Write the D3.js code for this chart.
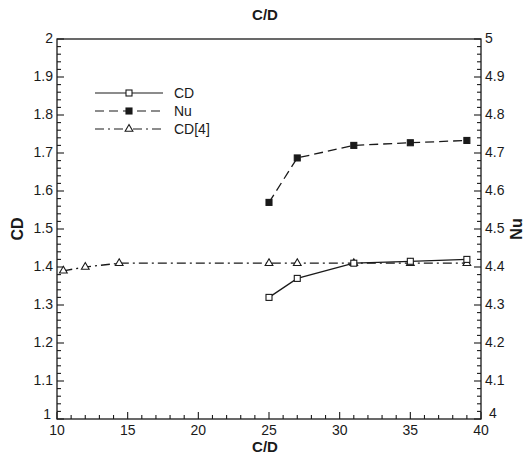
<!DOCTYPE html>
<html>
<head>
<meta charset="utf-8">
<script src="https://cdn.jsdelivr.net/npm/d3@7"></script>
<style>
  html, body { margin: 0; padding: 0; background: #fff; }
  svg { display: block; }
  text { font-family: "Liberation Sans", Arial, sans-serif; fill: #1a1a1a; }
</style>
</head>
<body>
<svg id="chart" width="525" height="454"></svg>
<script>
// Drag coefficient (CD) and Nusselt number (Nu) versus C/D
const cdX = [25, 27, 31, 35, 39];
const cdY = [1.32, 1.37, 1.41, 1.415, 1.42];

const nuX = [25, 27, 31, 35, 39];
const nuY = [4.57, 4.687, 4.72, 4.727, 4.733];

const refX = [10.45, 12, 14.4, 25, 27, 31, 35, 39];
const refY = [1.39, 1.40, 1.41, 1.41, 1.41, 1.41, 1.41, 1.41];

const xTicks = [10, 15, 20, 25, 30, 35, 40];
const cdTicks = [1, 1.1, 1.2, 1.3, 1.4, 1.5, 1.6, 1.7, 1.8, 1.9, 2];
const nuTicks = [4, 4.1, 4.2, 4.3, 4.4, 4.5, 4.6, 4.7, 4.8, 4.9, 5];

const ink = "#1a1a1a";
const svg = d3.select("#chart");
const L = 57, R = 481, T = 39, B = 419;

const x = d3.scaleLinear().domain([10, 40]).range([L, R]);
const yL = d3.scaleLinear().domain([1, 2]).range([B, T]);
const yR = d3.scaleLinear().domain([4, 5]).range([B, T]);

// frame
svg.append("rect").attr("x", L).attr("y", T).attr("width", R - L).attr("height", B - T)
  .attr("fill", "none").attr("stroke", ink).attr("stroke-width", 1.3);

// minor + major ticks (inward)
const g = svg.append("g").attr("stroke", ink).attr("stroke-width", 1.1);
d3.range(10, 40.01, 1).forEach(v => {
  const len = (Math.round(v) % 5 === 0) ? 7 : 4;
  g.append("line").attr("x1", x(v)).attr("x2", x(v)).attr("y1", B).attr("y2", B - len);
});
d3.range(1, 2.001, 0.02).forEach(v => {
  const major = Math.abs(Math.round(v * 10) - v * 10) < 1e-6;
  const len = major ? 7 : 4;
  g.append("line").attr("x1", L).attr("x2", L + len).attr("y1", yL(v)).attr("y2", yL(v));
});
d3.range(4, 5.001, 0.02).forEach(v => {
  const major = Math.abs(Math.round(v * 10) - v * 10) < 1e-6;
  const len = major ? 7 : 4;
  g.append("line").attr("x1", R).attr("x2", R - len).attr("y1", yR(v)).attr("y2", yR(v));
});

// tick labels; the lowest y labels sit a little higher so they clear the corner x labels
const fmt = d3.format("~g");
svg.append("g").selectAll("text").data(xTicks).join("text")
  .attr("x", d => x(d)).attr("y", B + 16).attr("text-anchor", "middle")
  .attr("font-size", 14).text(d => d);
svg.append("g").selectAll("text").data(cdTicks).join("text")
  .attr("x", d => d === 1 ? L - 6 : L - 4)
  .attr("y", d => d === 1 ? yL(d) : yL(d) + 4).attr("text-anchor", "end")
  .attr("font-size", 14).text(d => fmt(d));
svg.append("g").selectAll("text").data(nuTicks).join("text")
  .attr("x", d => d === 4 ? R + 8 : R + 4)
  .attr("y", d => d === 4 ? yR(d) - 1 : yR(d) + 4).attr("text-anchor", "start")
  .attr("font-size", 14).text(d => fmt(d));

// titles
svg.append("text").attr("x", 265).attr("y", 20).attr("text-anchor", "middle")
  .attr("font-size", 15).attr("font-weight", "bold").text("C/D");
svg.append("text").attr("x", 265).attr("y", 452).attr("text-anchor", "middle")
  .attr("font-size", 15).attr("font-weight", "bold").text("C/D");
svg.append("text").attr("transform", `translate(23,${(T + B) / 2}) rotate(-90)`)
  .attr("text-anchor", "middle").attr("font-size", 16).attr("font-weight", "bold").text("CD");
svg.append("text").attr("transform", `translate(522,${(T + B) / 2}) rotate(-90)`)
  .attr("text-anchor", "middle").attr("font-size", 16).attr("font-weight", "bold").text("Nu");

// series
const styles = {
  cd:  { dash: null,        marker: "square",   fill: "#fff" },
  nu:  { dash: "9,5",       marker: "square",   fill: ink },
  ref: { dash: "9,4,2,4",   marker: "triangle", fill: "#fff" }
};

function drawMarker(sel, type, fill) {
  if (type === "square") {
    sel.append("rect").attr("x", -3).attr("y", -3).attr("width", 6).attr("height", 6)
      .attr("fill", fill).attr("stroke", ink).attr("stroke-width", 1.1);
  } else {
    sel.append("path").attr("d", d3.symbol(d3.symbolTriangle, 26)())
      .attr("fill", fill).attr("stroke", ink).attr("stroke-width", 1.1);
  }
}

function series(xs, ys, yScale, st) {
  const pts = xs.map((v, i) => [x(v), yScale(ys[i])]);
  svg.append("path").attr("d", d3.line()(pts)).attr("fill", "none")
    .attr("stroke", ink).attr("stroke-width", 1.3)
    .attr("stroke-dasharray", st.dash);
  pts.forEach(p => {
    const m = svg.append("g").attr("transform", `translate(${p[0]},${p[1]})`);
    drawMarker(m, st.marker, st.fill);
  });
}

series(refX, refY, yL, styles.ref);
series(cdX, cdY, yL, styles.cd);
series(nuX, nuY, yR, styles.nu);

// legend
const legend = [
  { label: "CD", st: styles.cd },
  { label: "Nu", st: styles.nu },
  { label: "CD[4]", st: styles.ref }
];
legend.forEach((d, i) => {
  const yy = 93 + i * 18;
  svg.append("line").attr("x1", 95).attr("x2", 163).attr("y1", yy).attr("y2", yy)
    .attr("stroke", ink).attr("stroke-width", 1.1).attr("stroke-dasharray", d.st.dash);
  const m = svg.append("g").attr("transform", `translate(129,${yy})`);
  drawMarker(m, d.st.marker, d.st.fill);
  svg.append("text").attr("x", 174).attr("y", yy + 5).attr("font-size", 14).text(d.label);
});
</script>
</body>
</html>
